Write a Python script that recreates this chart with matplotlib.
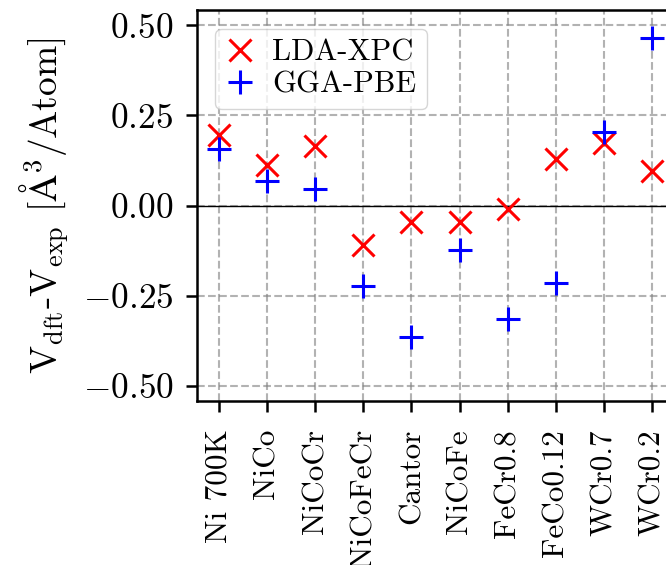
import matplotlib
matplotlib.use("Agg")
import matplotlib.pyplot as plt

plt.rcParams["font.family"] = "serif"
plt.rcParams["font.serif"] = ["cmr10"]
plt.rcParams["mathtext.fontset"] = "cm"
plt.rcParams["axes.formatter.use_mathtext"] = True
plt.rcParams["axes.unicode_minus"] = True

alloys = ["Ni 700K", "NiCo", "NiCoCr", "NiCoFeCr", "Cantor", "NiCoFe",
          "FeCr0.8", "FeCo0.12", "WCr0.7", "WCr0.2"]
lda_xpc = [0.197, 0.114, 0.165, -0.110, -0.046, -0.044, -0.009, 0.128, 0.174, 0.095]
gga_pbe = [0.157, 0.067, 0.047, -0.222, -0.365, -0.124, -0.315, -0.215, 0.205, 0.466]
yticks = [-0.5, -0.25, 0.0, 0.25, 0.5]

fig = plt.figure(figsize=(6.66, 5.65), dpi=100)
# axes runs past the right edge, as in the cropped original
ax = fig.add_axes([0.296, 0.290, 0.716, 0.692])

x = range(len(alloys))
ax.plot(x, lda_xpc, "x", color="red", ms=16, mew=2.2, label="LDA-XPC", zorder=3)
ax.plot(x, gga_pbe, "+", color="blue", ms=17, mew=2.2, label="GGA-PBE", zorder=3)
ax.axhline(0, color="black", lw=1, zorder=2)

ax.set_xlim(-0.45, 9.45)
ax.set_ylim(-0.542, 0.542)
ax.set_xticks(list(x))
ax.set_xticklabels(alloys, rotation=90, fontsize=22.5)
ax.set_yticks(yticks)
ax.tick_params(axis="y", labelsize=25.5, length=8, width=1.8, pad=9)
ax.tick_params(axis="x", length=8, width=1.8, pad=12)
for s in ax.spines.values():
    s.set_linewidth(1.8)

ax.grid(True, ls="--", color="gray", alpha=0.6, lw=1.5)
ax.set_ylabel(r"$\mathrm{V_{dft}}$-$\mathrm{V_{exp}}$ $[\mathrm{\AA^3/Atom}]$", fontsize=27,
              labelpad=8)
ax.legend(loc="upper left", fontsize=22, handletextpad=0.6, borderpad=0.35,
          labelspacing=0.15, handlelength=0.9, borderaxespad=0.6)

fig.savefig("out.png", dpi=100)
